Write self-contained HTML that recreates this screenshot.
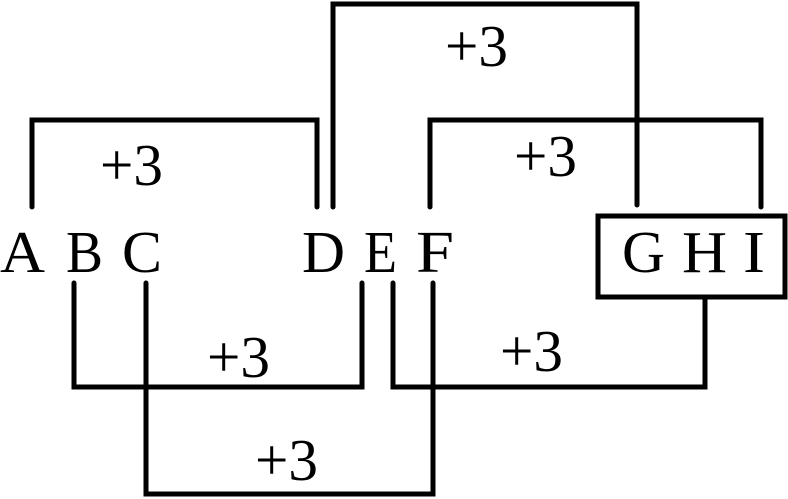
<!DOCTYPE html>
<html><head><meta charset="utf-8"><style>
html,body{margin:0;padding:0;background:#fff;width:788px;height:499px;overflow:hidden}
svg{display:block}
</style></head><body>
<svg width="788" height="499" viewBox="0 0 788 499" xmlns="http://www.w3.org/2000/svg">
<g fill="none" stroke="#000" stroke-width="5" stroke-linejoin="miter" stroke-linecap="round">
<polyline points="333,207 333,4 637,4 637,205"/>
<polyline points="32,207 32,120 317,120 317,207"/>
<polyline points="430,207 430,120 761,120 761,207"/>
<rect x="598" y="216" width="187" height="81" stroke-linecap="butt"/>
<polyline points="74,283 74,387 362,387 362,283"/>
<polyline points="146,283 146,494 433,494 433,283"/>
<polyline points="393,283 393,387 705,387 705,297"/>
</g>
<g font-family="'Liberation Serif', 'Times New Roman', Times, serif" font-size="59" fill="#000" lengthAdjust="spacingAndGlyphs">
<text x="0" y="272" textLength="45" lengthAdjust="spacingAndGlyphs">A</text>
<text x="66" y="272" textLength="37" lengthAdjust="spacingAndGlyphs">B</text>
<text x="122" y="272" textLength="40" lengthAdjust="spacingAndGlyphs">C</text>
<text x="302" y="272" textLength="43" lengthAdjust="spacingAndGlyphs">D</text>
<text x="364" y="272" textLength="33" lengthAdjust="spacingAndGlyphs">E</text>
<text x="416" y="272" textLength="38" lengthAdjust="spacingAndGlyphs">F</text>
<text x="622" y="272" textLength="43" lengthAdjust="spacingAndGlyphs">G</text>
<text x="682" y="272" textLength="45" lengthAdjust="spacingAndGlyphs">H</text>
<text x="743" y="272" textLength="22" lengthAdjust="spacingAndGlyphs">I</text>
<text x="445" y="66" textLength="63" lengthAdjust="spacingAndGlyphs">+3</text>
<text x="100" y="185" textLength="63" lengthAdjust="spacingAndGlyphs">+3</text>
<text x="514" y="176" textLength="63" lengthAdjust="spacingAndGlyphs">+3</text>
<text x="207" y="377" textLength="63" lengthAdjust="spacingAndGlyphs">+3</text>
<text x="500" y="371" textLength="63" lengthAdjust="spacingAndGlyphs">+3</text>
<text x="255" y="480" textLength="63" lengthAdjust="spacingAndGlyphs">+3</text>
</g>
</svg>
</body></html>
